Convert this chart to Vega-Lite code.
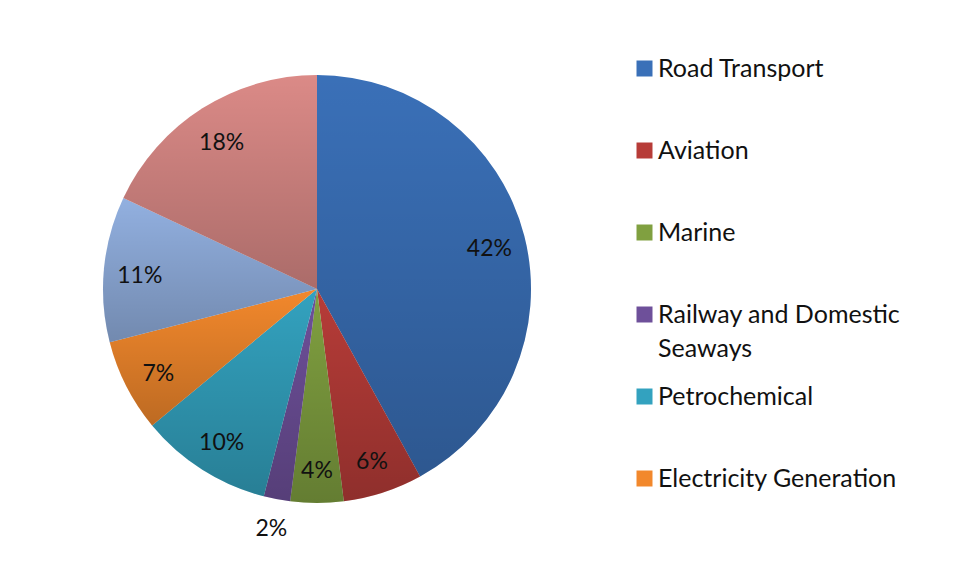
{
  "$schema": "https://vega.github.io/schema/vega-lite/v6.json",
  "width": 634,
  "height": 578,
  "padding": 0,
  "autosize": "pad",
  "background": "white",
  "config": {"view": {"stroke": null}, "font": "Lato"},
  "data": {
    "values": [
      {"sector": "Road Transport", "share": 0.42, "rank": 1},
      {"sector": "Aviation", "share": 0.06, "rank": 2},
      {"sector": "Marine", "share": 0.04, "rank": 3},
      {"sector": "Railway and Domestic Seaways", "share": 0.02, "rank": 4},
      {"sector": "Petrochemical", "share": 0.10, "rank": 5},
      {"sector": "Electricity Generation", "share": 0.07, "rank": 6},
      {"sector": "Industry", "share": 0.11, "rank": 7},
      {"sector": "Other", "share": 0.18, "rank": 8}
    ]
  },
  "encoding": {
    "theta": {"field": "share", "type": "quantitative", "stack": true},
    "order": {"field": "rank", "type": "quantitative"}
  },
  "layer": [
    {
      "mark": {"type": "arc", "outerRadius": 214},
      "encoding": {
        "color": {
          "field": "sector",
          "type": "nominal",
          "scale": {
            "domain": ["Road Transport", "Aviation", "Marine", "Railway and Domestic Seaways", "Petrochemical", "Electricity Generation", "Industry", "Other"],
            "range": ["#3A70B8", "#B73C38", "#80A040", "#6E509A", "#33A2BF", "#F2882C", "#92B0E0", "#DB8A87"]
          },
          "legend": {
            "title": null,
            "orient": "none",
            "legendX": 632,
            "legendY": 56,
            "padding": 0,
            "values": ["Road Transport", "Aviation", "Marine", "Railway and Domestic Seaways", "Petrochemical", "Electricity Generation"],
            "symbolType": "square",
            "symbolSize": 256,
            "symbolStrokeWidth": 0,
            "labelFont": "Lato",
            "labelFontSize": 25,
            "labelColor": "#111111",
            "labelOffset": 1,
            "labelLimit": 400,
            "rowPadding": 22,
            "labelExpr": "datum.label == 'Railway and Domestic Seaways' ? ['Railway and Domestic', 'Seaways'] : [datum.label, '']",
            "encode": {"labels": {"update": {"lineHeight": {"value": 34}}}}
          }
        }
      }
    },
    {
      "mark": {
        "type": "arc",
        "outerRadius": 214,
        "fill": {"gradient": "linear", "x1": 0, "y1": 0, "x2": 0, "y2": 1, "stops": [{"offset": 0, "color": "rgba(0,0,0,0)"}, {"offset": 1, "color": "rgba(0,0,0,0.22)"}]}
      },
      "encoding": {}
    },
    {
      "mark": {"type": "text", "fontSize": 23, "color": "#111111", "font": "Lato", "radius": 178, "dy": 4},
      "encoding": {
        "text": {"condition": {"test": "datum.share < 0.03", "value": ""}, "field": "share", "type": "quantitative", "format": ".0%"}
      }
    },
    {
      "mark": {"type": "text", "fontSize": 23, "color": "#111111", "font": "Lato", "radius": 244},
      "encoding": {
        "text": {"condition": {"test": "datum.share >= 0.03", "value": ""}, "field": "share", "type": "quantitative", "format": ".0%"}
      }
    }
  ]
}
